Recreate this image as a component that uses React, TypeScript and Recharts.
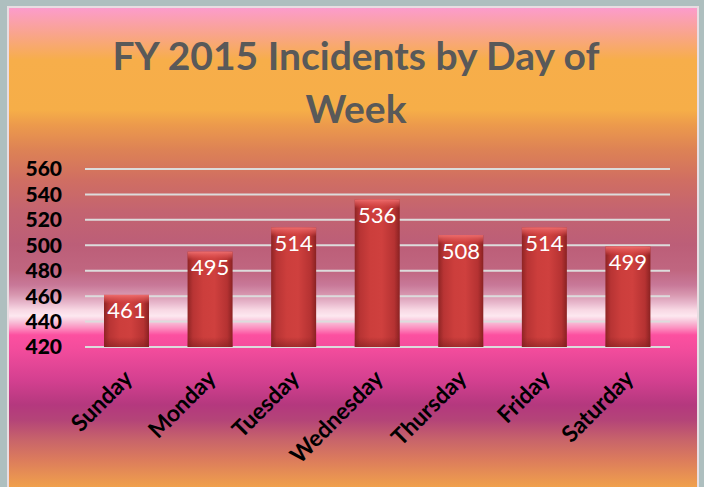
import React from "react";
import { BarChart, Bar, XAxis, YAxis, CartesianGrid, LabelList } from "recharts";

const days = ["Sunday", "Monday", "Tuesday", "Wednesday", "Thursday", "Friday", "Saturday"];
const incidents = [461, 495, 514, 536, 508, 514, 499];
const yTicks = [420, 440, 460, 480, 500, 520, 540, 560];
const titleLines = ["FY 2015 Incidents by Day of", "Week"];

const data = days.map((d, i) => ({ day: d, value: incidents[i] }));

const bgGradient =
  "linear-gradient(to bottom," +
  [
    "#fc9ccc 0px",
    "#f9a48e 25px",
    "#f7ae4a 52px",
    "#f6ae48 102px",
    "#ec9a4c 117px",
    "#dd8255 142px",
    "#d06e62 172px",
    "#c46470 202px",
    "#bc5e78 237px",
    "#c06680 262px",
    "#c87898 277px",
    "#d898b0 287px",
    "#e8b8cc 295px",
    "#f8d8e4 302px",
    "#fde8f0 308px",
    "#f8c0d8 314px",
    "#fc90c0 320px",
    "#fc50a0 327px",
    "#f24c9c 342px",
    "#d44090 372px",
    "#b4387e 397px",
    "#b44478 412px",
    "#c8646a 432px",
    "#dc7c5c 452px",
    "#f0a04c 479px",
  ].join(",") +
  ")";

const FONT = "Lato, 'Open Sans', sans-serif";

const BarShape = (props: any) => {
  const { x, y, width, height } = props;
  if (!height || height <= 0) return null;
  const topH = Math.min(9, height);
  const botH = Math.min(10, height);
  return (
    <g>
      <rect x={x} y={y} width={width} height={height} fill="url(#barBody)" />
      <rect x={x} y={y} width={width} height={topH} fill="url(#barTop)" />
      <rect x={x} y={y + height - botH} width={width} height={botH} fill="url(#barBottom)" />
    </g>
  );
};

const XTick = (props: any) => {
  const { x, y, payload } = props;
  return (
    <g transform={`translate(${x + 7},${y + 25}) rotate(-45)`}>
      <text
        x={0}
        y={0}
        textAnchor="end"
        fill="#000"
        fontFamily={FONT}
        fontWeight={700}
        fontSize={23}
      >
        {payload.value}
      </text>
    </g>
  );
};

export default function App() {
  return (
    <div
      style={{
        position: "absolute",
        left: 0,
        top: 0,
        width: 704,
        height: 487,
        background: "#aebfbf",
        overflow: "hidden",
      }}
    >
      <div
        style={{
          position: "absolute",
          left: 7,
          top: 6,
          width: 692,
          height: 500,
          boxSizing: "border-box",
          border: "2px solid #e8dde2",
          background: bgGradient,
        }}
      />
      <svg
        width={704}
        height={150}
        style={{ position: "absolute", left: 0, top: 0 }}
      >
        {titleLines.map((t, i) => (
          <text
            key={i}
            x={356}
            y={70 + i * 53}
            textAnchor="middle"
            fill="#595959"
            fontFamily={FONT}
            fontWeight={700}
            fontSize={39}
          >
            {t}
          </text>
        ))}
      </svg>
      <div style={{ position: "absolute", left: 0, top: 0 }}>
        <BarChart
          width={704}
          height={487}
          data={data}
          margin={{ top: 169, right: 34, bottom: 0, left: 0 }}
          barSize={45}
        >
          <defs>
            <linearGradient id="barBody" x1="0" y1="0" x2="1" y2="0">
              <stop offset="0%" stopColor="#8e2424" />
              <stop offset="12%" stopColor="#b83434" />
              <stop offset="35%" stopColor="#cc3e3c" />
              <stop offset="60%" stopColor="#cf403e" />
              <stop offset="88%" stopColor="#b53232" />
              <stop offset="100%" stopColor="#8a2222" />
            </linearGradient>
            <linearGradient id="barTop" x1="0" y1="0" x2="0" y2="1">
              <stop offset="0%" stopColor="#f07070" stopOpacity={0.95} />
              <stop offset="60%" stopColor="#e05555" stopOpacity={0.5} />
              <stop offset="100%" stopColor="#d04444" stopOpacity={0} />
            </linearGradient>
            <linearGradient id="barBottom" x1="0" y1="0" x2="0" y2="1">
              <stop offset="0%" stopColor="#7a1c1c" stopOpacity={0} />
              <stop offset="100%" stopColor="#7a1c1c" stopOpacity={0.55} />
            </linearGradient>
          </defs>
          <CartesianGrid
            vertical={false}
            stroke="#dcdcdc"
            strokeWidth={2}
          />
          <XAxis
            dataKey="day"
            height={140}
            axisLine={false}
            tickLine={false}
            interval={0}
            tick={<XTick />}
          />
          <YAxis
            type="number"
            domain={[420, 560]}
            ticks={yTicks}
            width={85}
            axisLine={false}
            tickLine={false}
            tickSize={0}
            tickMargin={23}
            tick={{ fill: "#000", fontFamily: FONT, fontWeight: 900, fontSize: 21 }}
            interval={0}
          />
          <Bar
            dataKey="value"
            isAnimationActive={false}
            shape={<BarShape />}
          >
            <LabelList
              dataKey="value"
              position="insideTop"
              offset={8}
              fill="#ffffff"
              fontFamily={FONT}
              fontSize={22}
            />
          </Bar>
        </BarChart>
      </div>
    </div>
  );
}
